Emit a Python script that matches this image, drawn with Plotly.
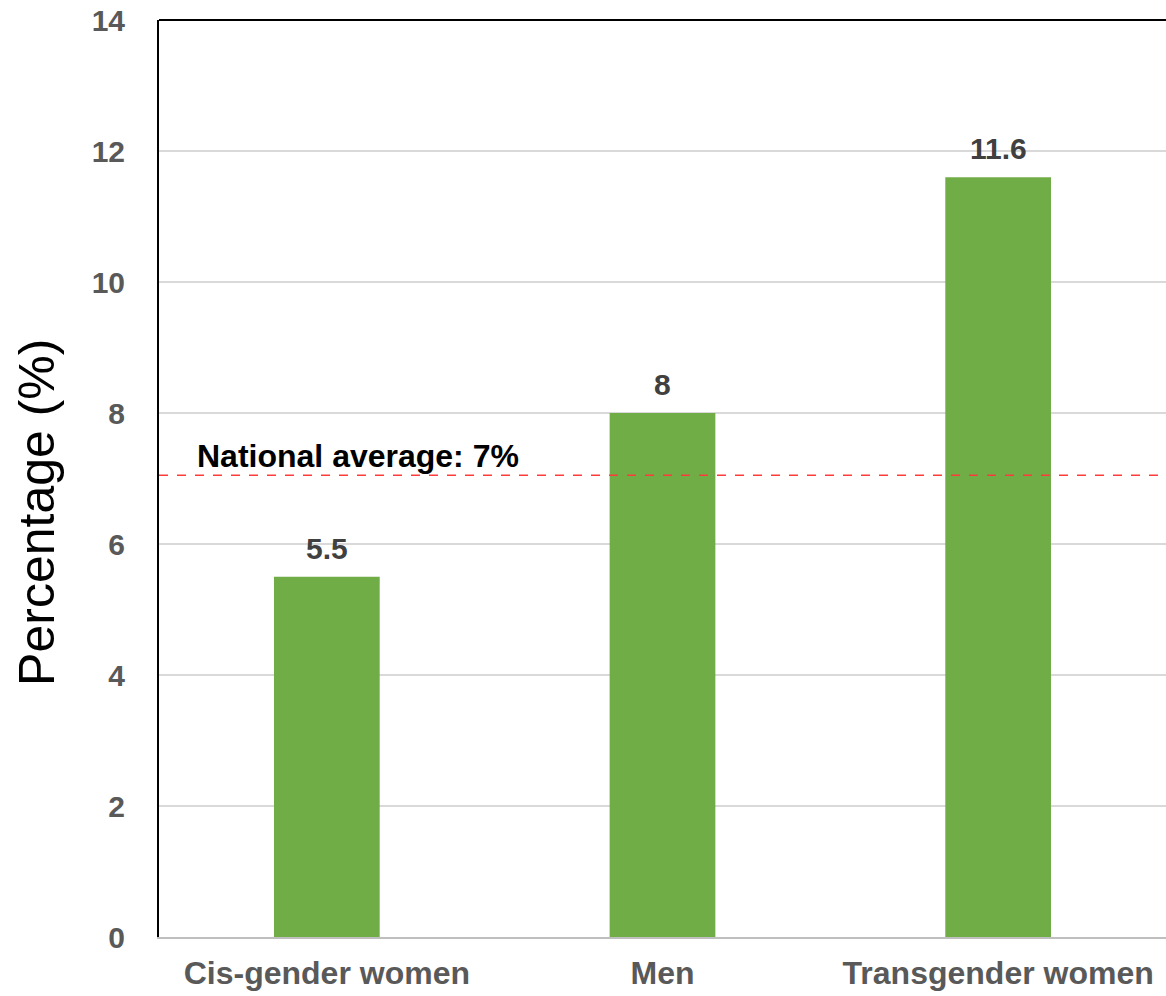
import plotly.graph_objects as go

categories = ["Cis-gender women", "Men", "Transgender women"]
values = [5.5, 8, 11.6]
value_labels = ["5.5", "8", "11.6"]
national_average = 7
y_ticks = [0, 2, 4, 6, 8, 10, 12, 14]

FONT = "Liberation Sans, Arial, sans-serif"

fig = go.Figure()
fig.add_trace(go.Bar(
    x=categories,
    y=values,
    width=0.315,
    marker=dict(color="#70AD47", line=dict(width=0)),
    hoverinfo="skip",
))

# value labels above each bar
for cat, val, lab in zip(categories, values, value_labels):
    fig.add_annotation(x=cat, y=val, text=f"<b>{lab}</b>", showarrow=False,
                       xanchor="center", yanchor="bottom", yshift=10,
                       font=dict(family=FONT, size=30, color="#404040"))

# national average reference line
fig.add_shape(type="line", xref="paper", yref="y",
              x0=0, x1=1, y0=national_average + 0.05, y1=national_average + 0.05,
              line=dict(color="#FF3B3B", width=1.5, dash="dash"))
fig.add_annotation(xref="paper", yref="y", x=0.036, y=national_average + 0.35,
                   text="<b>National average: 7%</b>", showarrow=False,
                   xanchor="left", yanchor="middle",
                   font=dict(family=FONT, size=32, color="#000000"))

# y-axis title, placed slightly below the vertical centre
fig.add_annotation(xref="paper", yref="paper", x=-0.1212, y=0.4635,
                   text="Percentage (%)", textangle=-90, showarrow=False,
                   xanchor="center", yanchor="middle",
                   font=dict(family=FONT, size=50, color="#000000"))

# top border of the plotting area
fig.add_shape(type="line", xref="paper", yref="paper", x0=0, x1=1, y0=1, y1=1,
              line=dict(color="#000000", width=2))

fig.update_layout(
    width=1166, height=996,
    margin=dict(l=159, r=0, t=20, b=59),
    plot_bgcolor="white", paper_bgcolor="white",
    showlegend=False,
    xaxis=dict(
        showline=True, linecolor="#BFBFBF", linewidth=2,
        showgrid=False, ticks="",
        ticklabelstandoff=7,
        tickfont=dict(family=FONT, size=32, color="#595959", weight="bold"),
        range=[-0.5, 2.5],
    ),
    yaxis=dict(
        range=[0, 14], tickvals=y_ticks,
        showline=True, linecolor="#000000", linewidth=2,
        showgrid=True, gridcolor="#D9D9D9", gridwidth=1.5,
        zeroline=False, ticks="",
        ticklabelstandoff=26,
        tickfont=dict(family=FONT, size=30, color="#595959", weight="bold"),
    ),
)

fig.write_html("out.html")
